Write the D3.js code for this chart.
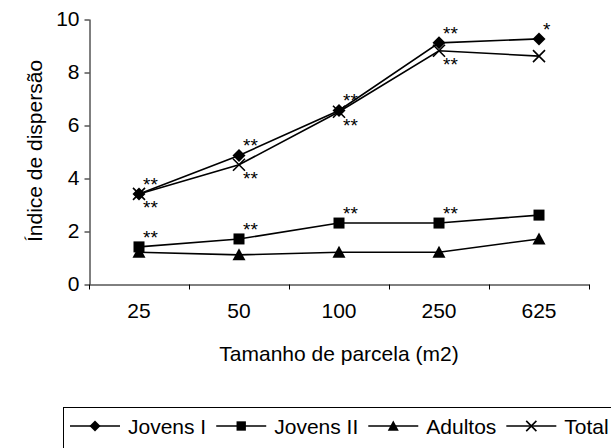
<!DOCTYPE html>
<html><head><meta charset="utf-8">
<script src="https://cdn.jsdelivr.net/npm/d3@7"></script>
<style>body{margin:0;background:#fff}text{font-family:"Liberation Sans",Arial,sans-serif;fill:#000}</style>
</head><body><svg id="c" width="611" height="448"></svg>
<script>
const categories = ["25", "50", "100", "250", "625"];
const jovensI = [3.4, 4.85, 6.55, 9.1, 9.25];
const jovensII = [1.4, 1.7, 2.3, 2.3, 2.6];
const adultos = [1.2, 1.1, 1.2, 1.2, 1.7];
const total = [3.4, 4.5, 6.5, 8.8, 8.6];
const yTicks = [0, 2, 4, 6, 8, 10];
const seriesNames = ["Jovens I", "Jovens II", "Adultos", "Total"];
const seriesMarkers = ["diamond", "square", "triangle", "x"];
// significance labels: series, category index, label, side
const annSeries = ["Jovens I","Jovens I","Jovens I","Jovens I","Jovens I","Total","Total","Total","Total","Jovens II","Jovens II","Jovens II","Jovens II"];
const annIndex = [0,1,2,3,4,0,1,2,3,0,1,2,3];
const annLabel = ["**","**","**","**","*","**","**","**","**","**","**","**","**"];
const annSide = ["above","above","above","above","above","below","below","below","below","above","above","above","above"];

const seriesValues = [jovensI, jovensII, adultos, total];
const svg = d3.select("#c");
const FS = 21;
const x = d3.scaleBand().domain(categories).range([89, 589]).padding(0);
const y = d3.scaleLinear().domain([0, 10]).range([284, 19]);

// y axis
const ya = svg.append("g").attr("transform", "translate(89.5,0)")
  .call(d3.axisLeft(y).tickValues(yTicks).tickSize(5).tickSizeOuter(0).tickPadding(5));
ya.selectAll("text").style("font-size", FS + "px").style("font-family", "Liberation Sans, Arial, sans-serif");
ya.selectAll("path,line").attr("stroke", "#000");
ya.selectAll(".tick line").attr("transform", "translate(0,0.5)");

// x axis line + boundary ticks
const xa = svg.append("g").attr("transform", "translate(0,284.5)")
  .call(d3.axisBottom(x).tickSize(0).tickPadding(19).tickSizeOuter(0));
xa.select(".domain").attr("stroke", "#000");
xa.selectAll("text").style("font-size", FS + "px").style("font-family", "Liberation Sans, Arial, sans-serif");
const bounds = categories.map(c => x(c)).concat([x.range()[1]]);
xa.selectAll(".bnd").data(bounds).join("line").attr("class", "bnd")
  .attr("x1", d => Math.round(d) + 0.5).attr("x2", d => Math.round(d) + 0.5)
  .attr("y1", 0).attr("y2", 5).attr("stroke", "#000");

// titles
svg.append("text").attr("x", 339).attr("y", 361).attr("text-anchor", "middle")
  .style("font-size", FS + "px").text("Tamanho de parcela (m2)");
svg.append("text").attr("transform", "translate(42,151) rotate(-90)").attr("text-anchor", "middle")
  .style("font-size", FS + "px").text("Índice de dispersão");

const cx = c => x(c) + x.bandwidth() / 2;
const line = d3.line().x((d, i) => cx(categories[i])).y(d => y(d));

function diamondPath(px, py, r) {
  return `M${px},${py - r}L${px + r},${py}L${px},${py + r}L${px - r},${py}Z`;
}
function drawMarker(g, type, px, py, sc) {
  if (type === "diamond") {
    g.append("path").attr("d", diamondPath(px, py, 6.5 * sc)).attr("fill", "#000");
  } else if (type === "square") {
    const h = 5.5 * sc;
    g.append("rect").attr("x", px - h).attr("y", py - h).attr("width", 2 * h).attr("height", 2 * h).attr("fill", "#000");
  } else if (type === "triangle") {
    g.append("path").attr("d", `M${px},${py - 6.5 * sc}L${px + 6.5 * sc},${py + 5.5 * sc}L${px - 6.5 * sc},${py + 5.5 * sc}Z`).attr("fill", "#000");
  } else {
    const s = 6 * sc;
    g.append("path").attr("d", `M${px - s},${py - s}L${px + s},${py + s}M${px - s},${py + s}L${px + s},${py - s}`)
      .attr("stroke", "#000").attr("stroke-width", 1.6).attr("fill", "none");
  }
}

const plot = svg.append("g");
seriesValues.forEach((vals) => {
  plot.append("path").datum(vals).attr("d", line).attr("fill", "none").attr("stroke", "#000").attr("stroke-width", 1.6);
});
seriesValues.forEach((vals, si) => {
  vals.forEach((v, i) => drawMarker(plot, seriesMarkers[si], cx(categories[i]), y(v), 1));
});

// annotations
annLabel.forEach((lab, k) => {
  const si = seriesNames.indexOf(annSeries[k]);
  const v = seriesValues[si][annIndex[k]];
  const px = cx(categories[annIndex[k]]) + 4;
  const py = y(v) + (annSide[k] === "above" ? -3 : 20);
  svg.append("text").attr("x", px).attr("y", py).style("font-size", "19px").text(lab);
});

// legend
const lg = svg.append("g");
lg.append("rect").attr("x", 63.5).attr("y", 407.5).attr("width", 600).attr("height", 80)
  .attr("fill", "#fff").attr("stroke", "#000").attr("stroke-width", 1);
let lx = 70;
const ly = 426;
seriesNames.forEach((n, si) => {
  lg.append("line").attr("x1", lx).attr("x2", lx + 50).attr("y1", ly).attr("y2", ly).attr("stroke", "#000").attr("stroke-width", 1.6);
  drawMarker(lg, seriesMarkers[si], lx + 25, ly, 0.85);
  const t = lg.append("text").attr("x", lx + 58).attr("y", ly + 8).style("font-size", FS + "px").text(n);
  lx = lx + 58 + t.node().getComputedTextLength() + 10;
});
</script></body></html>
